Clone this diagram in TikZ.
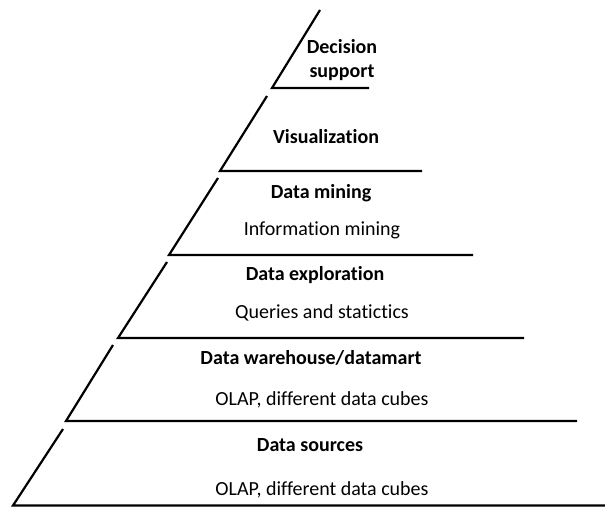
\documentclass[tikz,border=0pt]{standalone}
\usepackage{fontspec}
\setmainfont{Carlito}[Ligatures=NoCommon]
\begin{document}
\begin{tikzpicture}[x=1pt,y=-1pt,
  edge/.style={line width=2.2pt, black},
  ttl/.style={font=\bfseries\fontsize{20}{24}\selectfont, inner sep=0pt, align=center},
  sub/.style={font=\fontsize{20}{24}\selectfont, inner sep=0pt}]
\useasboundingbox (0,0) rectangle (605,507);
% layer 1
\coordinate (t1) at (320,10); \coordinate (b1) at (272,88); \coordinate (r1) at (369,88);
% layer 2
\coordinate (t2) at (267,96); \coordinate (b2) at (220,171); \coordinate (r2) at (422,171);
% layer 3
\coordinate (t3) at (218,178); \coordinate (b3) at (169,255); \coordinate (r3) at (473,255);
% layer 4
\coordinate (t4) at (167,262); \coordinate (b4) at (118,338); \coordinate (r4) at (524,338);
% layer 5
\coordinate (t5) at (113,345); \coordinate (b5) at (66,421); \coordinate (r5) at (577,421);
% layer 6
\coordinate (t6) at (63,429); \coordinate (b6) at (13,505.5); \coordinate (r6) at (605,505.5);
\foreach \i in {1,...,6} \draw[edge] (t\i) -- (b\i) -- (r\i);
\node[ttl] (n1) at (342,60) {Decision\\support};
\node[ttl] (n2) at (326,137) {Visualization};
\node[ttl] (n3) at (321,193) {Data mining};
\node[sub] (s3) at (322,230) {Information mining};
\node[ttl] (n4) at (315,275) {Data exploration};
\node[sub] (s4) at (322,313) {Queries and statictics};
\node[ttl] (n5) at (311,358) {Data warehouse/datamart};
\node[sub] (s5) at (322,400) {OLAP, different data cubes};
\node[ttl] (n6) at (310,445) {Data sources};
\node[sub] (s6) at (322,490) {OLAP, different data cubes};
\end{tikzpicture}
\end{document}
